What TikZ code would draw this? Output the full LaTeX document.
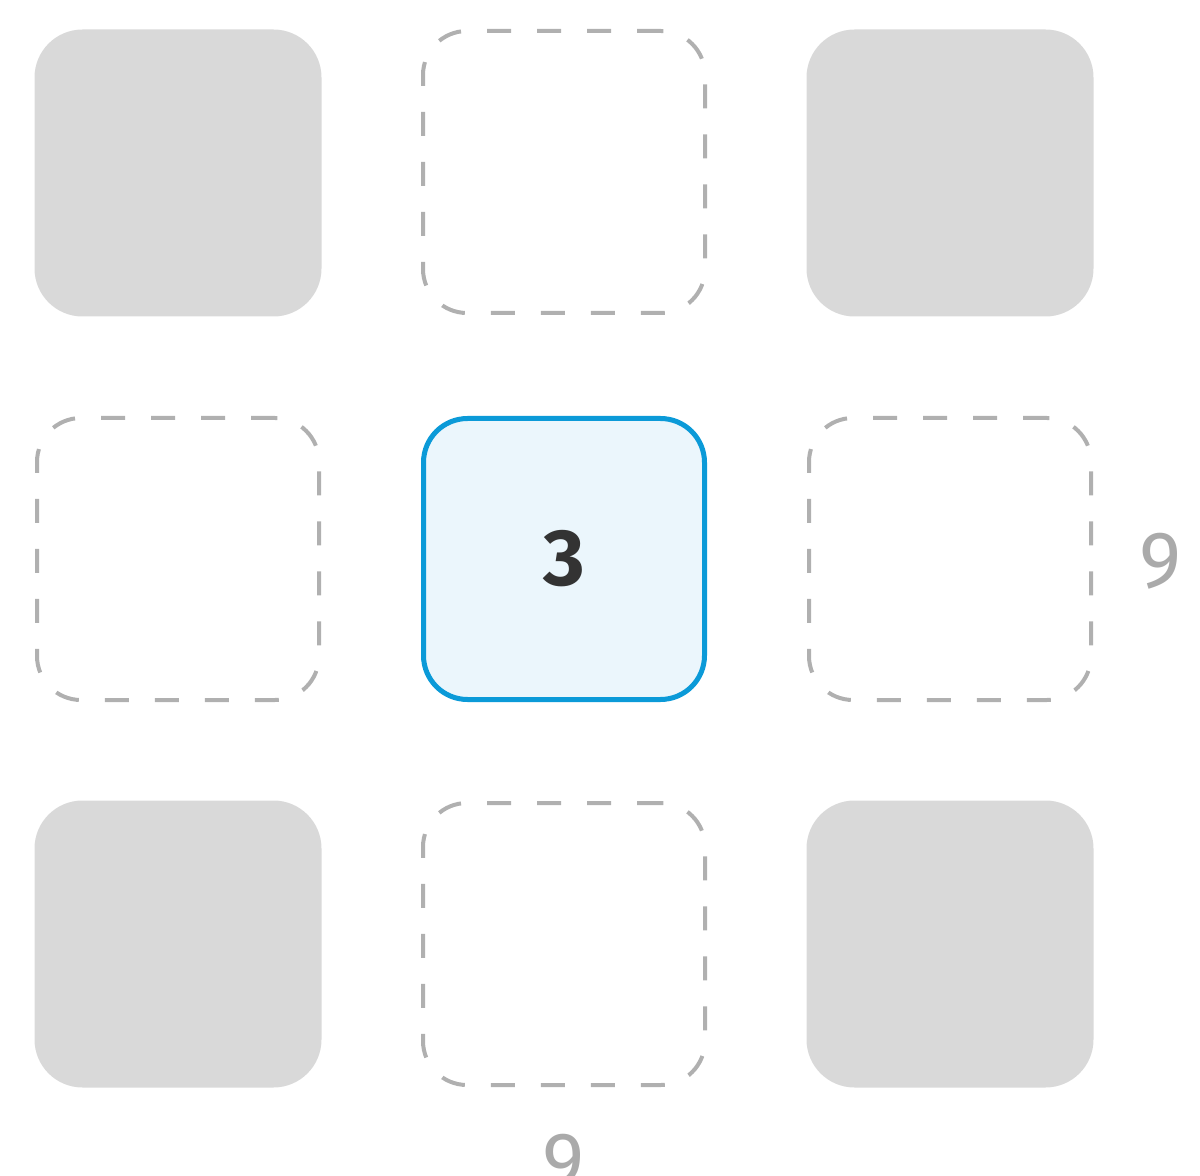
\documentclass[tikz,border=0pt]{standalone}
\usepackage{fontspec}
\setmainfont{Fira Sans}
\definecolor{cellgray}{HTML}{D9D9D9}
\definecolor{dashgray}{HTML}{B0B0B0}
\definecolor{activeblue}{HTML}{0B9AD8}
\definecolor{activefill}{HTML}{EBF6FC}
\definecolor{textdark}{HTML}{333333}
\definecolor{labelgray}{HTML}{AAAAAA}
\begin{document}
\begin{tikzpicture}[x=0.5pt,y=-0.5pt,
  filledcell/.style={draw=none,fill=cellgray,rounded corners=24pt,minimum size=143.5pt,inner sep=0pt},
  emptycell/.style={draw=dashgray,line width=2pt,dash pattern=on 12pt off 13pt,rounded corners=22pt,minimum size=141pt,inner sep=0pt},
  activecell/.style={draw=activeblue,fill=activefill,line width=2.5pt,rounded corners=22pt,minimum size=140.5pt,inner sep=0pt,font=\fontsize{40}{48}\selectfont\bfseries,text=textdark},
  sumlabel/.style={font=\fontsize{40}{48}\selectfont,text=labelgray,inner sep=0pt}]
\useasboundingbox (0,0) rectangle (1200,1176);
\node[filledcell] (c11) at (178,173) {};
\node[emptycell] (c12) at (564,172) {};
\node[filledcell] (c13) at (950,173) {};
\node[emptycell] (c21) at (178,559) {};
\node[activecell] (c22) at (564,559) {3};
\node[emptycell] (c23) at (950,559) {};
\node[filledcell] (c31) at (178,944) {};
\node[emptycell] (c32) at (564,944) {};
\node[filledcell] (c33) at (950,944) {};
\node[sumlabel] (rowsum) at (1160,561) {9};
\node[sumlabel] (colsum) at (563,1162) {9};
\end{tikzpicture}
\end{document}
